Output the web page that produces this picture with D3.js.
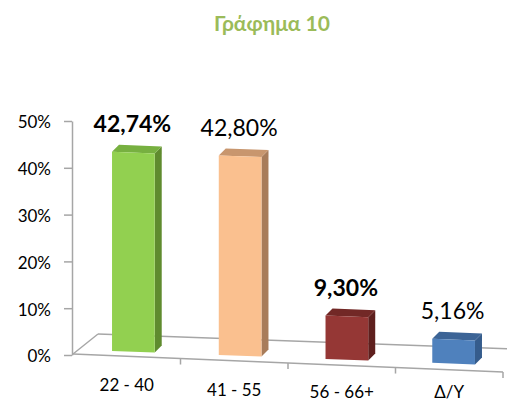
<!DOCTYPE html>
<html lang="el">

<head>
    <meta charset="utf-8">
    <title>Γράφημα 10</title>
    <script type="text/javascript" src="https://d3js.org/d3.v7.min.js"></script>
    <style>
        body { margin: 0; background: #fff; }
        svg text { font-family: Lato, "Open Sans", sans-serif; fill: #000; }
    </style>
</head>

<body>
    <div id="container"></div>
    <script type="text/javascript">
        // data
        var categories = ["22 - 40", "41 - 55", "56 - 66+", "Δ/Υ"];
        var values = [42.74, 42.80, 9.30, 5.16];
        var yTicks = [0, 10, 20, 30, 40, 50];
        var title = "Γράφημα 10";

        var w = 507;
        var h = 403;
        const svg = d3.select("div#container")
            .append("svg")
            .attr("width", w)
            .attr("height", h);

        // greek number format: comma as decimal mark
        var gr = d3.formatLocale({ decimal: ",", thousands: ".", grouping: [3], currency: ["", "€"] });
        var fmt = gr.format(".2f");

        // fake 3D floor: front and back edges slope down a bit to the right
        var x0 = 73, x1 = 503;
        var frontY = (x) => 354 + 0.042 * (x - x0);
        var backY = (x) => 334 + 0.036 * (x - 98);
        var baseY = (x) => 351 + 0.037 * (x - 112);
        var depth = [7, -7];

        var x = d3.scaleBand().domain(categories).range([x0, x1]);
        var xBar = d3.scaleBand().domain(categories).range([80, 507]).paddingInner(0.6).paddingOuter(0.3);
        var yAxisScale = d3.scaleLinear().domain([0, 50]).range([355, 121]);
        var hScale = d3.scaleLinear().domain([0, 50]).range([0, 233]);

        var grey = "#a6a6a6";

        // floor
        var floor = svg.append("g").attr("fill", "none").attr("stroke", grey).attr("stroke-width", 1.5);
        floor.append("line").attr("x1", x0).attr("y1", frontY(x0)).attr("x2", x1).attr("y2", frontY(x1));
        floor.append("line").attr("x1", 98).attr("y1", backY(98)).attr("x2", 507).attr("y2", backY(507));
        floor.append("line").attr("x1", x0).attr("y1", frontY(x0)).attr("x2", 98).attr("y2", backY(98));
        floor.selectAll("line.tick")
            .data(categories)
            .enter()
            .append("line")
            .attr("class", "tick")
            .attr("x1", (d) => x(d) + x.bandwidth())
            .attr("x2", (d) => x(d) + x.bandwidth())
            .attr("y1", (d) => frontY(x(d) + x.bandwidth()))
            .attr("y2", (d) => frontY(x(d) + x.bandwidth()) + 6);

        // y axis
        const yAxis = svg.append("g")
            .attr("transform", "translate(72,0)")
            .call(d3.axisLeft(yAxisScale).tickValues(yTicks).tickSize(8).tickSizeOuter(0).tickPadding(13)
                .tickFormat((d) => d + "%"));
        yAxis.attr("font-family", null);
        yAxis.select(".domain").attr("stroke", grey).attr("stroke-width", 1.5);
        yAxis.selectAll(".tick line").attr("stroke", grey).attr("stroke-width", 1.5);
        yAxis.selectAll(".tick text").attr("font-size", 17).attr("dy", "0.4em");

        // category labels under the floor (last one kept inside the picture)
        svg.selectAll("text.cat")
            .data(categories)
            .enter()
            .append("text")
            .attr("class", "cat")
            .attr("x", (d) => x(d) + x.bandwidth() / 2)
            .attr("y", (d) => Math.min(frontY(x(d) + x.bandwidth() / 2) + 35, h - 5))
            .attr("text-anchor", "middle")
            .attr("font-size", 17)
            .text((d) => d);

        // bars: front, top, side faces
        var colors = [
            { front: "#92d050", top: "#77b040", side: "#5f8b2e" },
            { front: "#fac08f", top: "#c8966e", side: "#a87c5a" },
            { front: "#953735", top: "#722826", side: "#5e1f1d" },
            { front: "#4f81bd", top: "#3c6496", side: "#355c8c" }
        ];
        var bars = categories.map((c, i) => {
            var l = xBar(c), r = xBar(c) + xBar.bandwidth();
            var hh = hScale(values[i]);
            return {
                i: i, l: l, r: r,
                bl: baseY(l), br: baseY(r),
                tl: baseY(l) - hh, tr: baseY(r) - hh
            };
        });
        var pts = (a) => a.map((p) => p.join(",")).join(" ");
        var g = svg.selectAll("g.bar")
            .data(bars)
            .enter()
            .append("g")
            .attr("class", "bar");
        g.append("polygon")
            .attr("fill", (d) => colors[d.i].side)
            .attr("points", (d) => pts([[d.r, d.tr], [d.r + depth[0], d.tr + depth[1]], [d.r + depth[0], d.br + depth[1]], [d.r, d.br]]));
        g.append("polygon")
            .attr("fill", (d) => colors[d.i].top)
            .attr("points", (d) => pts([[d.l, d.tl], [d.l + depth[0], d.tl + depth[1]], [d.r + depth[0], d.tr + depth[1]], [d.r, d.tr]]));
        g.append("polygon")
            .attr("fill", (d) => colors[d.i].front)
            .attr("points", (d) => pts([[d.l, d.tl], [d.r, d.tr], [d.r, d.br], [d.l, d.bl]]));

        // value labels, 1st and 3rd are bold
        svg.selectAll("text.val")
            .data(bars)
            .enter()
            .append("text")
            .attr("class", "val")
            .attr("x", (d) => (d.l + d.r) / 2 - 1)
            .attr("y", (d) => d.tl - 20)
            .attr("text-anchor", "middle")
            .attr("font-size", 23)
            .attr("font-weight", (d) => (d.i % 2 === 0 ? "bold" : "normal"))
            .text((d) => fmt(values[d.i]) + "%");

        // title
        svg.append("text")
            .attr("x", 272)
            .attr("y", 31)
            .attr("text-anchor", "middle")
            .attr("font-size", 21)
            .attr("font-weight", "bold")
            .style("fill", "#9bbb59")
            .text(title);
    </script>
</body>

</html>
